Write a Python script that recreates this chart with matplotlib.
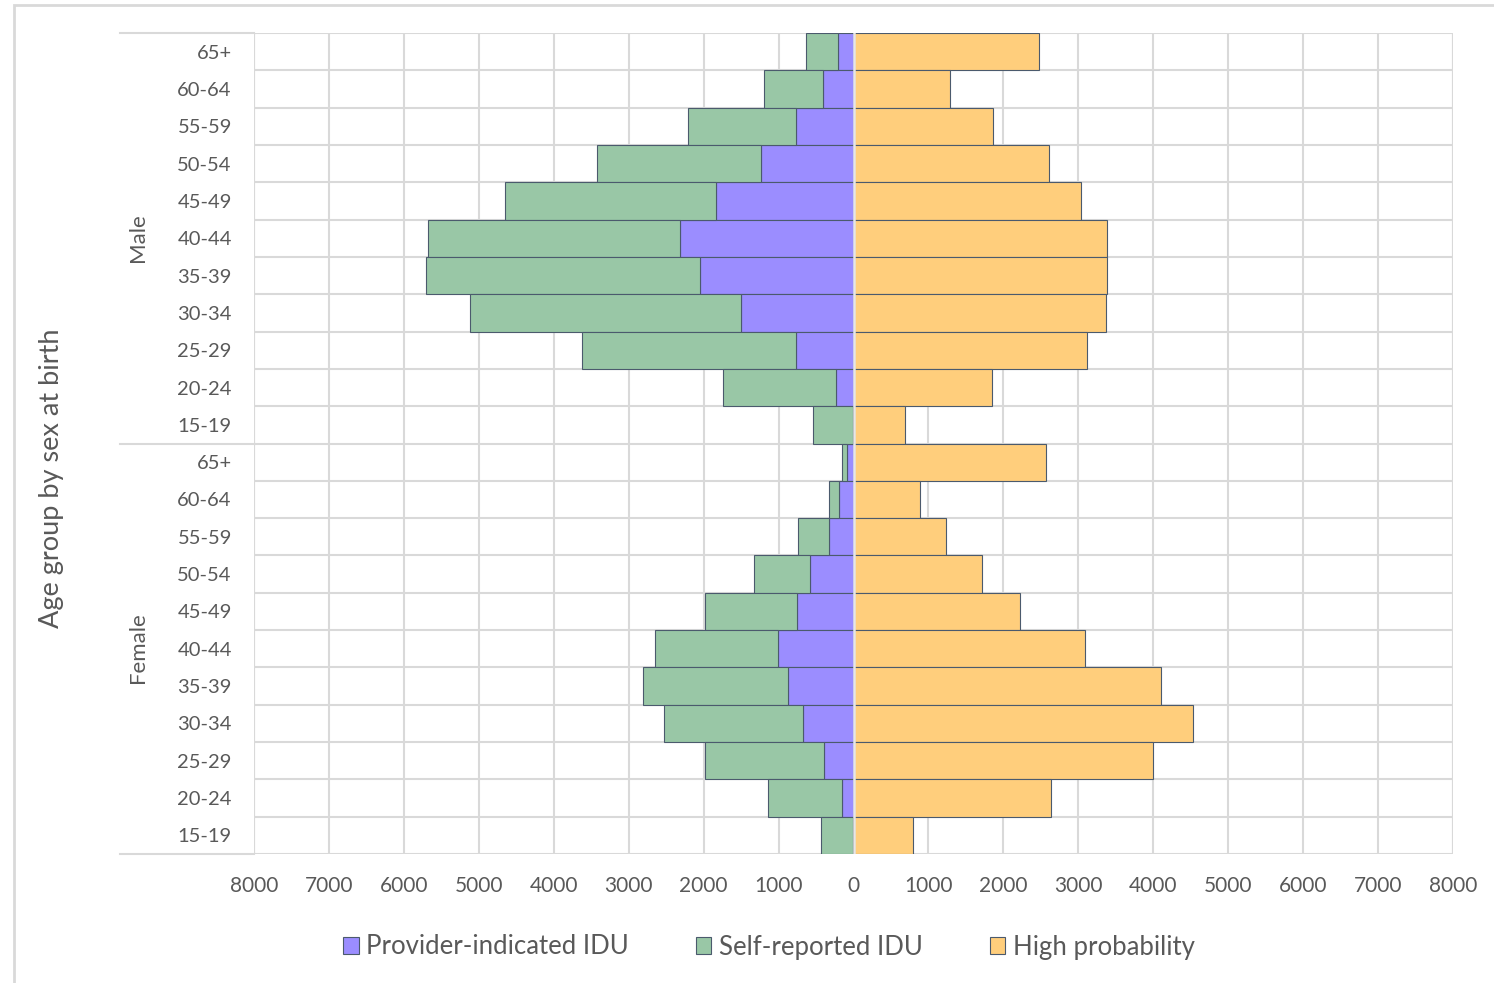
import matplotlib
matplotlib.use("Agg")
import matplotlib.pyplot as plt
from matplotlib.patches import Rectangle, Patch
from matplotlib.ticker import FuncFormatter, MultipleLocator

plt.rcParams['font.family'] = ['Lato', 'DejaVu Sans']

age_groups = ["65+", "60-64", "55-59", "50-54", "45-49", "40-44",
              "35-39", "30-34", "25-29", "20-24", "15-19"]
sexes = ["Male", "Female"]

# Counts per age group, oldest first, for each sex
male_provider = [213, 413, 773, 1240, 1840, 2320, 2053, 1507, 773, 240, 13]
male_self = [427, 787, 1440, 2187, 2813, 3360, 3654, 3613, 2854, 1507, 534]
male_high = [2480, 1293, 1867, 2613, 3040, 3387, 3387, 3373, 3120, 1853, 693]

female_provider = [93, 187, 333, 587, 760, 1013, 880, 680, 400, 147, 13]
female_self = [54, 146, 414, 746, 1227, 1640, 1933, 1853, 1587, 1000, 427]
female_high = [2573, 893, 1240, 1720, 2227, 3093, 4107, 4533, 4000, 2640, 800]

series_names = ["Provider-indicated IDU", "Self-reported IDU", "High probability"]
colors = ["#9B8DFF", "#99C7A6", "#FFCE7C"]
edge = "#4B5A6D"
grid_c = "#D9D9D9"
text_c = "#595959"

provider = male_provider + female_provider
selfrep = male_self + female_self
high = male_high + female_high
labels = age_groups + age_groups
ypos = list(range(len(labels)))

W, H = 1494, 983
fig = plt.figure(figsize=(W / 100, H / 100), dpi=100)
ax = fig.add_axes([254 / W, 1 - 854 / H, (1453 - 254) / W, (854 - 33) / H])

neg_provider = [-v for v in provider]
neg_self = [-v for v in selfrep]
ax.barh(ypos, neg_provider, height=1.0, color=colors[0], edgecolor=edge, linewidth=0.8, zorder=3)
ax.barh(ypos, neg_self, left=neg_provider, height=1.0, color=colors[1], edgecolor=edge, linewidth=0.8, zorder=3)
ax.barh(ypos, high, height=1.0, color=colors[2], edgecolor=edge, linewidth=0.8, zorder=3)
ax.axvline(0, color="#E6E6E6", lw=1.8, zorder=4)

ax.set_xlim(-8000, 8000)
ax.set_ylim(len(labels) - 0.5, -0.5)
ax.xaxis.set_major_locator(MultipleLocator(1000))
ax.xaxis.set_major_formatter(FuncFormatter(lambda v, p: f"{abs(int(round(v)))}"))
ax.set_yticks(ypos)
ax.set_yticklabels(labels)
ax.set_yticks([y + 0.5 for y in ypos[:-1]], minor=True)
ax.grid(True, axis="x", which="major", color=grid_c, lw=1.5, zorder=0)
ax.grid(True, axis="y", which="minor", color=grid_c, lw=1.5, zorder=0)
ax.tick_params(axis="both", which="both", length=0)
ax.tick_params(axis="y", pad=16, labelsize=14.5, labelcolor=text_c)
ax.tick_params(axis="x", pad=15.5, labelsize=15, labelcolor=text_c)
for s in ax.spines.values():
    s.set_visible(False)
for x in (-8000, 8000):
    ax.axvline(x, color=grid_c, lw=1.5, zorder=0)
ax.axhline(-0.5, color=grid_c, lw=1.5, zorder=0)
ax.axhline(len(labels) - 0.5, color=grid_c, lw=1.5, zorder=0)

# group separators running through the label area
x0 = (120 - 254) / (1453 - 254)
for yb in (-0.5, len(age_groups) - 0.5, len(labels) - 0.5):
    ax.plot([x0, 0], [yb, yb], transform=ax.get_yaxis_transform(), color=grid_c,
            lw=1.5, clip_on=False)

fig.text(138 / W, 1 - 238 / H, sexes[0], rotation=90, ha="center", va="center",
         fontsize=16, color=text_c)
fig.text(138 / W, 1 - 648 / H, sexes[1], rotation=90, ha="center", va="center",
         fontsize=16, color=text_c)
fig.text(52 / W, 1 - 478 / H, "Age group by sex at birth", rotation=90, ha="center",
         va="center", fontsize=19.5, color=text_c)

handles = [Patch(facecolor=c, edgecolor=edge, linewidth=0.8) for c in colors]
fig.legend(handles, series_names, loc="center", bbox_to_anchor=(769 / W, 1 - 947 / H),
           ncol=3, frameon=False, fontsize=18.5, labelcolor=text_c, handlelength=0.6,
           handleheight=0.6, handletextpad=0.3, columnspacing=2.6)

fig.patches.append(Rectangle((14 / W, -0.1), 2, 1.1 - 5 / H, transform=fig.transFigure,
                             fill=False, edgecolor=grid_c, lw=2))

fig.savefig("out.png", dpi=100, facecolor="white")
